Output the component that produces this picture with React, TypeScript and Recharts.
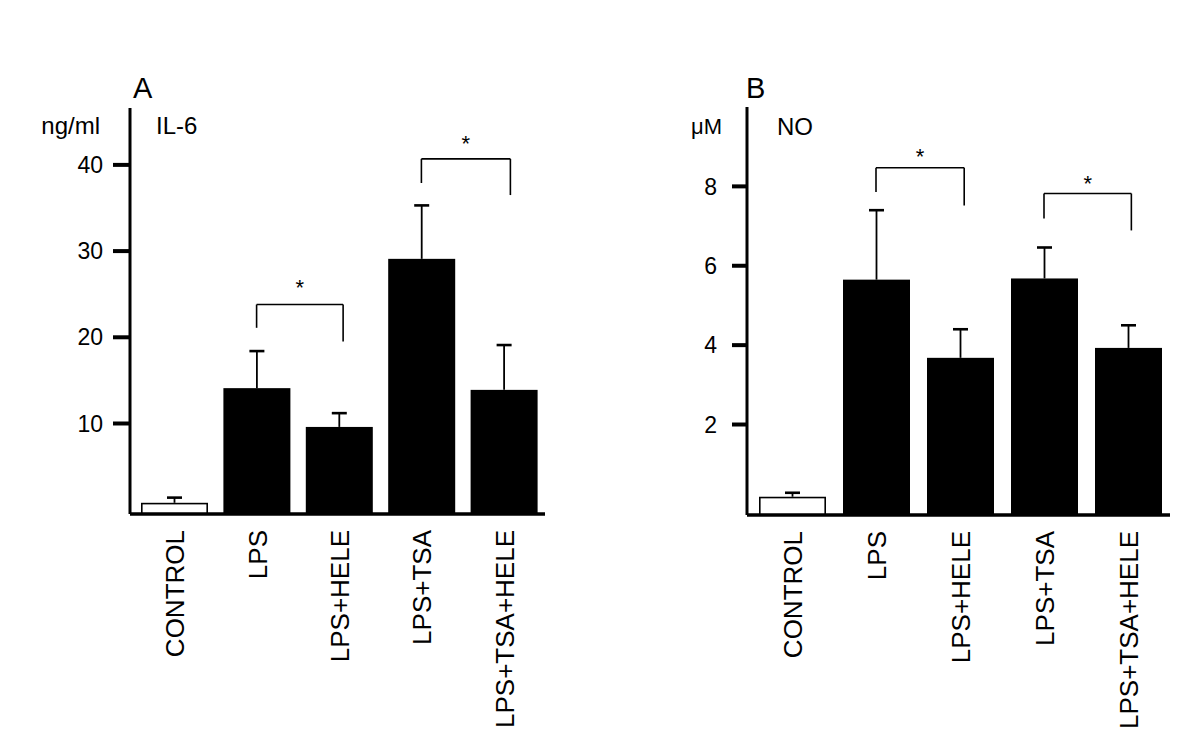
import { BarChart, Bar, XAxis, YAxis, ReferenceLine, ReferenceDot } from 'recharts'

const categories = ['CONTROL', 'LPS', 'LPS+HELE', 'LPS+TSA', 'LPS+TSA+HELE']

// panel A: IL-6 (ng/ml)
const il6Mean = [0.8, 14.1, 9.6, 29.1, 13.9]
const il6Err = [0.6, 4.3, 1.6, 6.2, 5.2]
const il6Ticks = [10, 20, 30, 40]

// panel B: NO (μM)
const noMean = [0.18, 5.65, 3.68, 5.68, 3.93]
const noErr = [0.1, 1.75, 0.72, 0.78, 0.57]
const noTicks = [2, 4, 6, 8]

// significance brackets: from/to = category index, top + the two leg ends, star height
const il6Brackets = [
  { from: 1, to: 2.05, top: 23.8, leftEnd: 21.1, rightEnd: 19.5, star: 25.8 },
  { from: 3, to: 4.08, top: 40.7, leftEnd: 37.9, rightEnd: 36.5, star: 42.5 },
]
const noBrackets = [
  { from: 1, to: 2.05, top: 8.47, leftEnd: 7.86, rightEnd: 7.52, star: 8.75 },
  { from: 3, to: 4.04, top: 7.82, leftEnd: 7.19, rightEnd: 6.89, star: 8.08 },
]

const FONT = '"Liberation Sans", Arial, Helvetica, sans-serif'

type Row = { name: string; mean: number; err: number; base: number }

function buildRows(mean: number[], err: number[], base: number): Row[] {
  return categories.map((name, i) => ({ name, mean: mean[i], err: err[i], base }))
}

// bar drawn from the axis floor, with an upward-only error bar on top
function BarWithError(props: any) {
  const { x, y, width, height, payload, index } = props
  const ppu = height / (payload.mean - payload.base)
  const cx = x + width / 2
  const errTop = y - payload.err * ppu
  const open = index === 0
  return (
    <g>
      <line x1={cx} y1={y} x2={cx} y2={errTop} stroke="#000" strokeWidth={1.8} />
      <line x1={cx - 7.5} y1={errTop} x2={cx + 7.5} y2={errTop} stroke="#000" strokeWidth={2.6} />
      <rect
        x={open ? x + 0.8 : x}
        y={open ? y + 0.8 : y}
        width={open ? width - 1.6 : width}
        height={open ? height - 0.8 : height}
        fill={open ? '#fff' : '#000'}
        stroke="#000"
        strokeWidth={open ? 1.6 : 0}
      />
    </g>
  )
}

function CatTick(props: any) {
  const { x, y, payload } = props
  const bx = x + 10
  return (
    <text x={bx} y={y} transform={`rotate(-90 ${bx} ${y})`} textAnchor="end" fontSize={26} fill="#000" fontFamily={FONT}>
      {payload.value}
    </text>
  )
}

interface PanelProps {
  rows: Row[]
  domain: [number, number]
  ticks: number[]
  brackets: typeof il6Brackets
  margin: { top: number; right: number; bottom: number; left: number }
  band: number
  tickSize: number
  tickMargin: number
}

function Panel({ rows, domain, ticks, brackets, margin, band, tickSize, tickMargin }: PanelProps) {
  // hidden numeric axis lined up with the category centres, used for the brackets
  const numPad = { left: 3 + band / 2, right: band / 2 }
  return (
    <BarChart width={600} height={750} data={rows} margin={margin} barSize={67}>
      <XAxis
        dataKey="name"
        interval={0}
        height={220}
        padding={{ left: 3, right: 0 }}
        tickSize={0}
        tickMargin={16}
        tick={<CatTick />}
        axisLine={{ stroke: '#000', strokeWidth: 3.5 }}
        tickLine={false}
      />
      <XAxis xAxisId="n" type="number" domain={[0, 4]} allowDataOverflow padding={numPad} hide />
      <YAxis
        type="number"
        domain={domain}
        allowDataOverflow
        ticks={ticks}
        width={60}
        tickSize={tickSize}
        tickMargin={tickMargin}
        tick={{ fontSize: 23, fill: '#000', fontFamily: FONT }}
        axisLine={{ stroke: '#000', strokeWidth: 3 }}
        tickLine={{ stroke: '#000', strokeWidth: 4 }}
      />
      <Bar dataKey={(d: Row) => [d.base, d.mean]} shape={<BarWithError />} isAnimationActive={false} />
      {brackets.map((b, i) => (
        <ReferenceLine
          key={`l${i}`}
          xAxisId="n"
          ifOverflow="visible"
          stroke="#000"
          strokeWidth={1.6}
          segment={[{ x: b.from, y: b.leftEnd }, { x: b.from, y: b.top }]}
        />
      ))}
      {brackets.map((b, i) => (
        <ReferenceLine
          key={`t${i}`}
          xAxisId="n"
          ifOverflow="visible"
          stroke="#000"
          strokeWidth={1.6}
          segment={[{ x: b.from, y: b.top }, { x: b.to, y: b.top }]}
        />
      ))}
      {brackets.map((b, i) => (
        <ReferenceLine
          key={`r${i}`}
          xAxisId="n"
          ifOverflow="visible"
          stroke="#000"
          strokeWidth={1.6}
          segment={[{ x: b.to, y: b.top }, { x: b.to, y: b.rightEnd }]}
        />
      ))}
      {brackets.map((b, i) => (
        <ReferenceDot
          key={`s${i}`}
          xAxisId="n"
          x={(b.from + b.to) / 2}
          y={b.star}
          r={0}
          fill="none"
          stroke="none"
          ifOverflow="visible"
          label={{ value: '*', position: 'center', fontSize: 22, fill: '#000', fontFamily: FONT }}
        />
      ))}
    </BarChart>
  )
}

export default function App() {
  const il6Rows = buildRows(il6Mean, il6Err, -0.5)
  const noRows = buildRows(noMean, noErr, -0.28)
  return (
    <div style={{ position: 'absolute', left: 0, top: 0, width: 1200, height: 750, background: '#fff', fontFamily: FONT }}>
      <div style={{ position: 'absolute', left: 0, top: 0 }}>
        <Panel
          rows={il6Rows}
          domain={[-0.5, 46.6]}
          ticks={il6Ticks}
          brackets={il6Brackets}
          margin={{ top: 108, right: 55, bottom: 16, left: 70 }}
          band={82.4}
          tickSize={17}
          tickMargin={10}
        />
      </div>
      <div style={{ position: 'absolute', left: 600, top: 0 }}>
        <Panel
          rows={noRows}
          domain={[-0.28, 10]}
          ticks={noTicks}
          brackets={noBrackets}
          margin={{ top: 107, right: 30, bottom: 15, left: 87 }}
          band={84}
          tickSize={15}
          tickMargin={15}
        />
      </div>
      <svg width={1200} height={750} style={{ position: 'absolute', left: 0, top: 0, pointerEvents: 'none' }}>
        <text x={133} y={98} fontSize={29} fill="#000">A</text>
        <text x={100} y={134} fontSize={24} textAnchor="end" fill="#000">ng/ml</text>
        <text x={156} y={134} fontSize={24} fill="#000">IL-6</text>
        <text x={746} y={98} fontSize={29} fill="#000">B</text>
        <text x={722} y={134} fontSize={22} textAnchor="end" fill="#000">μM</text>
        <text x={777} y={135} fontSize={24} fill="#000">NO</text>
      </svg>
    </div>
  )
}
